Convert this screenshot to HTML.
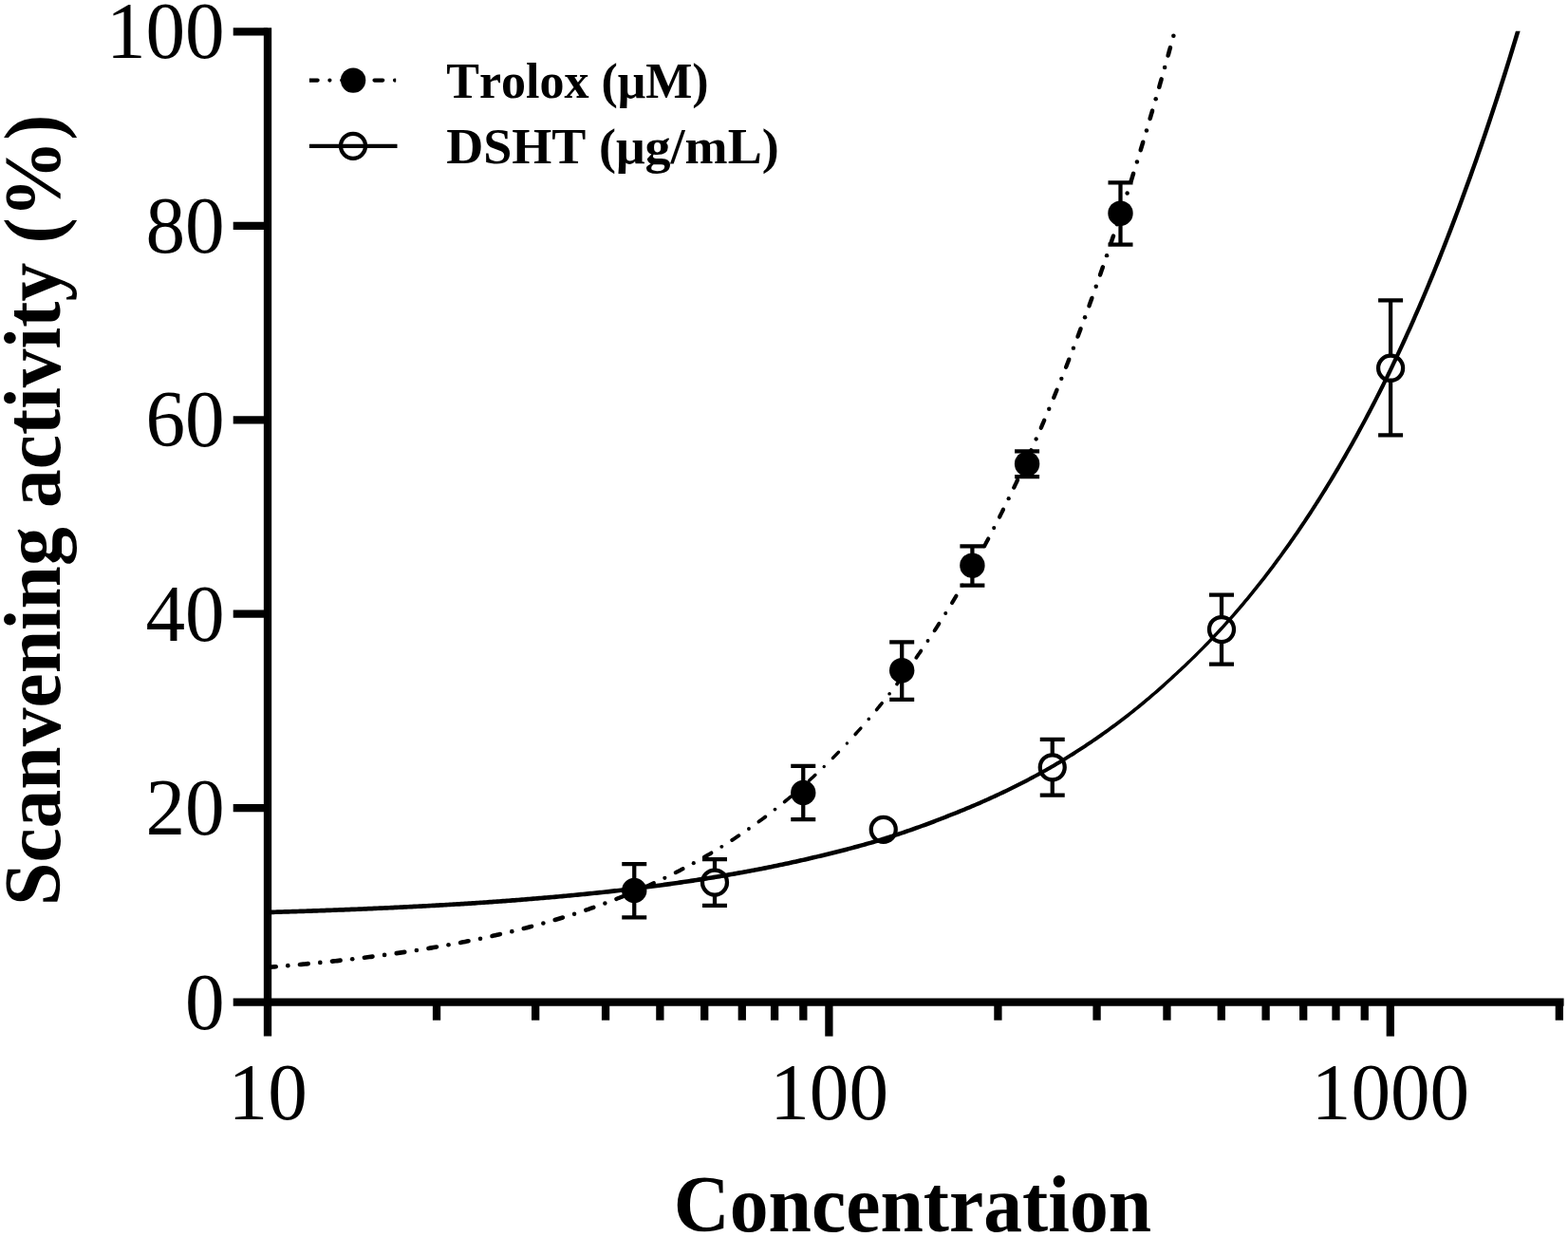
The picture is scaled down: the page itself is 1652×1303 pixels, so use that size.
<!DOCTYPE html>
<html lang="en"><head><meta charset="utf-8"><title>Scavenging activity</title>
<style>
html,body{margin:0;padding:0;background:#fff;}
body{width:1652px;height:1303px;overflow:hidden;}
svg{display:block;}
text{font-family:"Liberation Serif",serif;fill:#000;font-kerning:none;font-variant-ligatures:none;}
.tk{font-size:84.4px;}
.ti{font-size:84px;font-weight:bold;}
.lg{font-size:53.8px;font-weight:bold;}
</style></head><body>
<svg width="1652" height="1303" viewBox="0 0 1652 1303">
<rect width="1652" height="1303" fill="#fff"/>
<g stroke="#000" fill="none" stroke-width="8.3" stroke-linecap="butt">
<path d="M282.0,29.25 V1091.6"/>
<path d="M245.7,1055.6 H1647.6"/>
<path d="M245.7,851.16 H282.0"/>
<path d="M245.7,646.72 H282.0"/>
<path d="M245.7,442.28 H282.0"/>
<path d="M245.7,237.84 H282.0"/>
<path d="M245.7,33.40 H282.0"/>
<path d="M873.40,1055.6 V1091.6"/>
<path d="M1464.80,1055.6 V1091.6"/>
<path d="M460.03,1055.6 V1074.7"/>
<path d="M564.17,1055.6 V1074.7"/>
<path d="M638.06,1055.6 V1074.7"/>
<path d="M695.37,1055.6 V1074.7"/>
<path d="M742.20,1055.6 V1074.7"/>
<path d="M781.79,1055.6 V1074.7"/>
<path d="M816.09,1055.6 V1074.7"/>
<path d="M846.34,1055.6 V1074.7"/>
<path d="M1051.43,1055.6 V1074.7"/>
<path d="M1155.57,1055.6 V1074.7"/>
<path d="M1229.46,1055.6 V1074.7"/>
<path d="M1286.77,1055.6 V1074.7"/>
<path d="M1333.60,1055.6 V1074.7"/>
<path d="M1373.19,1055.6 V1074.7"/>
<path d="M1407.49,1055.6 V1074.7"/>
<path d="M1437.74,1055.6 V1074.7"/>
<path d="M1642.83,1055.6 V1074.7"/>
</g>
<text class="tk" text-anchor="end" transform="translate(236.7,1084.0) scale(0.986,1)">0</text>
<text class="tk" text-anchor="end" transform="translate(236.7,879.4) scale(0.986,1)">20</text>
<text class="tk" text-anchor="end" transform="translate(236.7,674.8) scale(0.986,1)">40</text>
<text class="tk" text-anchor="end" transform="translate(236.7,470.3) scale(0.986,1)">60</text>
<text class="tk" text-anchor="end" transform="translate(236.7,265.7) scale(0.986,1)">80</text>
<text class="tk" text-anchor="end" transform="translate(236.7,61.1) scale(0.986,1)">100</text>
<text class="tk" text-anchor="middle" transform="translate(282.2,1178.9) scale(0.986,1)">10</text>
<text class="tk" text-anchor="middle" transform="translate(873.6,1178.9) scale(0.986,1)">100</text>
<text class="tk" text-anchor="middle" transform="translate(1465.0,1178.9) scale(0.986,1)">1000</text>
<text class="ti" text-anchor="middle" transform="translate(961.5,1296.6) scale(0.972,1)">Concentration</text>
<text class="ti" text-anchor="middle" transform="translate(63,537.3) rotate(-90) scale(0.9705,1)">Scanvening activity (%)</text>
<g stroke="#000" stroke-width="4.25" fill="none">
<clipPath id="lgc"><rect x="325.9" y="60" width="91.3" height="50"/></clipPath>
<path d="M325.9,84.6 H420" stroke-dasharray="8.7 12.8 0.01 12.8" stroke-linecap="round" clip-path="url(#lgc)"/>
<path d="M325.9,153.8 H418.5"/>
<circle cx="372.1" cy="84.6" r="13.2" fill="#000" stroke="none"/>
<circle cx="372" cy="153.8" r="13.0" fill="none"/>
</g>
<text class="lg" text-anchor="start" transform="translate(470.2,103.1) scale(0.967,1)">Trolox (μM)</text>
<text class="lg" text-anchor="start" transform="translate(470.2,172.4) scale(1.005,1)">DSHT (μg/mL)</text>
<g stroke="#000" stroke-width="4.25" fill="none">
<path d="M668.25,910 V966.25 M655.25,910 H681.25 M655.25,966.25 H681.25"/>
<path d="M846.25,806.75 V863 M833.25,806.75 H859.25 M833.25,863 H859.25"/>
<path d="M950.2,676.3 V736.9 M937.2,676.3 H963.2 M937.2,736.9 H963.2"/>
<path d="M1024.4,575.4 V616.6 M1011.4000000000001,575.4 H1037.4 M1011.4000000000001,616.6 H1037.4"/>
<path d="M1082.1,475.4 V502.2 M1069.1,475.4 H1095.1 M1069.1,502.2 H1095.1"/>
<path d="M1180.5,192.4 V257.6 M1167.5,192.4 H1193.5 M1167.5,257.6 H1193.5"/>
<path d="M753,905 V953.75 M740.0,905 H766.0 M740.0,953.75 H766.0"/>
<path d="M1108.75,778.75 V837.5 M1095.75,778.75 H1121.75 M1095.75,837.5 H1121.75"/>
<path d="M1287,626.5 V699.5 M1274.0,626.5 H1300.0 M1274.0,699.5 H1300.0"/>
<path d="M1465.1,316.4 V458.4 M1452.1,316.4 H1478.1 M1452.1,458.4 H1478.1"/>
</g>
<circle cx="668.25" cy="938" r="13.2" fill="#000"/>
<circle cx="846.25" cy="835" r="13.2" fill="#000"/>
<circle cx="950.2" cy="706.2" r="13.2" fill="#000"/>
<circle cx="1024.4" cy="595.7" r="13.2" fill="#000"/>
<circle cx="1082.1" cy="488.7" r="13.2" fill="#000"/>
<circle cx="1180.5" cy="224.7" r="13.2" fill="#000"/>
<circle cx="753" cy="929.5" r="13.0" fill="#fff" stroke="#000" stroke-width="4.25"/>
<circle cx="930.75" cy="873.75" r="13.0" fill="#fff" stroke="#000" stroke-width="4.25"/>
<circle cx="1108.75" cy="808.25" r="13.0" fill="#fff" stroke="#000" stroke-width="4.25"/>
<circle cx="1287" cy="663" r="13.0" fill="#fff" stroke="#000" stroke-width="4.25"/>
<circle cx="1465.1" cy="387.7" r="13.0" fill="#fff" stroke="#000" stroke-width="4.25"/>
<clipPath id="pc"><rect x="282.0" y="32.8" width="1370.0" height="1022.8"/></clipPath>
<polygon points="282.07,963.35 284.07,963.29 286.07,963.23 288.07,963.17 290.07,963.11 292.07,963.05 294.07,962.99 296.07,962.93 298.07,962.87 300.07,962.81 302.07,962.74 304.07,962.68 306.08,962.62 308.08,962.55 310.08,962.49 312.08,962.42 314.08,962.36 316.08,962.29 318.08,962.22 320.08,962.16 322.08,962.09 324.08,962.02 326.08,961.95 328.08,961.88 330.08,961.81 332.08,961.74 334.08,961.67 336.08,961.60 338.08,961.53 340.08,961.46 342.09,961.39 344.09,961.31 346.09,961.24 348.09,961.16 350.09,961.09 352.09,961.01 354.09,960.94 356.09,960.86 358.09,960.79 360.09,960.71 362.09,960.63 364.09,960.55 366.09,960.47 368.09,960.39 370.09,960.31 372.10,960.23 374.10,960.15 376.10,960.07 378.10,959.98 380.10,959.90 382.10,959.82 384.10,959.73 386.10,959.65 388.10,959.56 390.10,959.48 392.10,959.39 394.10,959.30 396.10,959.21 398.10,959.12 400.11,959.03 402.11,958.94 404.11,958.85 406.11,958.76 408.11,958.67 410.11,958.58 412.11,958.48 414.11,958.39 416.11,958.30 418.11,958.20 420.11,958.10 422.11,958.01 424.11,957.91 426.12,957.81 428.12,957.71 430.12,957.61 432.12,957.51 434.12,957.41 436.12,957.31 438.12,957.21 440.12,957.10 442.12,957.00 444.12,956.89 446.12,956.79 448.12,956.68 450.13,956.57 452.13,956.47 454.13,956.36 456.13,956.25 458.13,956.14 460.13,956.03 462.13,955.92 464.13,955.80 466.13,955.69 468.13,955.57 470.14,955.46 472.14,955.34 474.14,955.23 476.14,955.11 478.14,954.99 480.14,954.87 482.14,954.75 484.14,954.63 486.14,954.51 488.14,954.39 490.15,954.26 492.15,954.14 494.15,954.01 496.15,953.89 498.15,953.76 500.15,953.63 502.16,953.50 504.16,953.36 506.16,953.23 508.16,953.09 510.16,952.95 512.16,952.82 514.16,952.68 516.16,952.54 518.17,952.40 520.17,952.25 522.17,952.11 524.17,951.97 526.17,951.82 528.17,951.68 530.17,951.53 532.17,951.38 534.17,951.23 536.18,951.08 538.18,950.93 540.18,950.78 542.18,950.63 544.18,950.47 546.18,950.32 548.18,950.16 550.18,950.00 552.19,949.84 554.19,949.68 556.19,949.52 558.19,949.36 560.19,949.20 562.19,949.03 564.19,948.87 566.19,948.70 568.20,948.53 570.20,948.36 572.20,948.19 574.20,948.02 576.20,947.85 578.20,947.68 580.20,947.50 582.21,947.32 584.21,947.15 586.21,946.97 588.21,946.79 590.21,946.61 592.21,946.42 594.21,946.24 596.22,946.05 598.22,945.87 600.22,945.68 602.22,945.49 604.22,945.30 606.22,945.11 608.23,944.91 610.23,944.72 612.23,944.52 614.23,944.33 616.23,944.13 618.23,943.93 620.23,943.73 622.24,943.52 624.24,943.32 626.24,943.11 628.24,942.91 630.24,942.70 632.24,942.49 634.25,942.27 636.25,942.06 638.25,941.85 640.25,941.63 642.25,941.41 644.26,941.19 646.26,940.97 648.26,940.75 650.26,940.52 652.27,940.29 654.27,940.06 656.27,939.82 658.27,939.59 660.28,939.35 662.28,939.11 664.28,938.87 666.28,938.62 668.28,938.38 670.29,938.13 672.29,937.88 674.29,937.63 676.29,937.38 678.29,937.13 680.30,936.87 682.30,936.61 684.30,936.36 686.30,936.09 688.30,935.83 690.31,935.57 692.31,935.30 694.31,935.03 696.31,934.76 698.31,934.49 700.32,934.22 702.32,933.94 704.32,933.67 706.32,933.39 708.32,933.10 710.33,932.82 712.33,932.54 714.33,932.25 716.33,931.96 718.34,931.67 720.34,931.37 722.34,931.08 724.34,930.78 726.34,930.48 728.35,930.18 730.35,929.88 732.35,929.57 734.35,929.26 736.36,928.95 738.36,928.64 740.36,928.32 742.36,928.01 744.37,927.69 746.37,927.37 748.37,927.04 750.37,926.72 752.38,926.39 754.38,926.06 756.38,925.73 758.38,925.39 760.39,925.06 762.39,924.72 764.39,924.37 766.39,924.03 768.40,923.68 770.40,923.33 772.40,922.98 774.40,922.63 776.41,922.27 778.41,921.92 780.41,921.55 782.41,921.19 784.42,920.83 786.42,920.46 788.42,920.09 790.42,919.71 792.43,919.34 794.43,918.96 796.43,918.58 798.44,918.19 800.44,917.80 802.44,917.41 804.44,917.02 806.45,916.63 808.45,916.23 810.45,915.83 812.46,915.42 814.46,915.02 816.46,914.61 818.46,914.20 820.47,913.78 822.47,913.36 824.47,912.94 826.48,912.52 828.48,912.09 830.48,911.66 832.49,911.23 834.49,910.79 836.49,910.35 838.50,909.91 840.50,909.46 842.50,909.01 844.51,908.56 846.51,908.10 848.51,907.65 850.52,907.18 852.52,906.72 854.52,906.25 856.53,905.78 858.53,905.30 860.53,904.83 862.52,904.36 864.53,903.89 866.53,903.41 868.53,902.93 870.54,902.45 872.54,901.96 874.54,901.47 876.55,900.97 878.55,900.48 880.55,899.97 882.56,899.47 884.56,898.96 886.57,898.45 888.57,897.93 890.57,897.41 892.58,896.89 894.58,896.36 896.58,895.83 898.59,895.29 900.59,894.75 902.59,894.21 904.60,893.66 906.60,893.11 908.61,892.55 910.61,891.99 912.61,891.43 914.62,890.86 916.62,890.29 918.62,889.72 920.63,889.14 922.63,888.55 924.64,887.96 926.64,887.37 928.64,886.77 930.66,886.16 932.68,885.52 934.68,884.88 936.68,884.24 938.69,883.59 940.69,882.94 942.70,882.28 944.70,881.62 946.70,880.95 948.71,880.28 950.71,879.61 952.72,878.93 954.72,878.24 956.72,877.55 958.73,876.86 960.73,876.16 962.74,875.46 964.74,874.75 966.74,874.03 968.75,873.31 970.75,872.59 972.76,871.86 974.76,871.13 976.76,870.39 978.77,869.64 980.77,868.89 982.78,868.14 984.78,867.38 986.78,866.61 988.79,865.84 990.79,865.07 992.80,864.28 994.80,863.50 996.80,862.70 998.81,861.91 1000.80,861.11 1002.80,860.34 1004.80,859.55 1006.81,858.75 1008.81,857.95 1010.81,857.15 1012.82,856.33 1014.82,855.52 1016.83,854.69 1018.83,853.86 1020.84,853.03 1022.84,852.18 1024.84,851.33 1026.85,850.48 1028.85,849.62 1030.86,848.75 1032.86,847.88 1034.86,847.00 1036.87,846.12 1038.87,845.22 1040.88,844.32 1042.88,843.42 1044.89,842.51 1046.89,841.59 1048.89,840.66 1050.90,839.73 1052.90,838.79 1054.91,837.85 1056.91,836.90 1058.92,835.94 1060.92,834.97 1062.92,834.00 1064.93,833.02 1066.93,832.03 1068.94,831.04 1070.94,830.04 1072.94,829.03 1074.95,828.02 1076.95,826.99 1078.96,825.96 1080.96,824.92 1082.96,823.88 1084.97,822.83 1086.97,821.77 1088.98,820.70 1090.98,819.62 1092.98,818.54 1094.99,817.45 1096.99,816.35 1098.99,815.24 1101.00,814.12 1102.98,812.99 1104.95,811.86 1106.93,810.72 1108.90,809.57 1110.87,808.41 1112.85,807.25 1114.82,806.07 1116.80,804.89 1118.77,803.70 1120.74,802.50 1122.72,801.30 1124.69,800.08 1126.66,798.86 1128.64,797.62 1130.61,796.38 1132.58,795.13 1134.56,793.87 1136.53,792.60 1138.50,791.32 1140.48,790.03 1142.45,788.74 1144.42,787.43 1146.39,786.11 1148.37,784.79 1150.34,783.45 1152.31,782.11 1154.29,780.75 1156.26,779.39 1158.23,778.02 1160.20,776.63 1162.18,775.24 1164.15,773.83 1166.12,772.42 1168.10,771.00 1170.07,769.56 1172.04,768.12 1174.01,766.66 1175.98,765.20 1177.96,763.72 1179.93,762.23 1181.90,760.73 1183.87,759.22 1185.84,757.71 1187.81,756.18 1189.77,754.63 1191.74,753.08 1193.71,751.52 1195.68,749.94 1197.65,748.36 1199.62,746.76 1201.58,745.15 1203.55,743.53 1205.52,741.90 1207.49,740.25 1209.46,738.60 1211.43,736.93 1213.39,735.25 1215.36,733.56 1217.33,731.86 1219.30,730.14 1221.27,728.41 1223.23,726.67 1225.20,724.92 1227.17,723.15 1229.14,721.37 1231.10,719.58 1233.07,717.77 1235.04,715.96 1237.01,714.13 1238.97,712.30 1240.99,710.45 1243.00,708.58 1245.02,706.70 1247.04,704.80 1249.06,702.89 1251.07,700.97 1253.09,699.03 1255.11,697.08 1257.12,695.11 1259.14,693.13 1261.16,691.13 1263.17,689.12 1265.20,687.10 1267.22,685.07 1269.25,683.03 1271.27,680.97 1273.30,678.90 1275.32,676.81 1277.35,674.70 1279.37,672.58 1281.40,670.45 1283.42,668.30 1285.45,666.13 1287.47,663.95 1289.50,661.75 1291.52,659.54 1293.55,657.31 1295.57,655.06 1297.60,652.80 1299.63,650.52 1301.64,648.22 1303.65,645.91 1305.67,643.58 1307.68,641.24 1309.69,638.88 1311.70,636.50 1313.71,634.10 1315.73,631.69 1317.74,629.26 1319.75,626.81 1321.76,624.34 1323.78,621.86 1325.79,619.35 1327.80,616.83 1329.81,614.29 1331.82,611.74 1333.84,609.16 1335.85,606.57 1337.86,603.95 1339.87,601.32 1341.88,598.67 1343.89,596.00 1345.91,593.31 1347.92,590.60 1349.93,587.87 1351.94,585.12 1353.95,582.36 1355.96,579.57 1357.98,576.76 1359.99,573.93 1362.00,571.08 1364.01,568.21 1366.02,565.32 1368.03,562.41 1370.04,559.48 1372.06,556.52 1374.07,553.55 1376.08,550.55 1378.09,547.53 1380.10,544.49 1382.11,541.43 1384.12,538.35 1386.13,535.24 1388.14,532.11 1390.16,528.96 1392.17,525.79 1394.18,522.59 1396.19,519.37 1398.20,516.13 1400.21,512.86 1402.23,509.57 1404.25,506.26 1406.27,502.92 1408.29,499.56 1410.31,496.17 1412.33,492.76 1414.34,489.32 1416.36,485.86 1418.38,482.38 1420.40,478.87 1422.42,475.33 1424.44,471.77 1426.46,468.18 1428.48,464.57 1430.50,460.93 1432.52,457.26 1434.54,453.57 1436.56,449.85 1438.58,446.11 1440.60,442.34 1442.62,438.54 1444.64,434.71 1446.66,430.85 1448.67,426.97 1450.69,423.06 1452.71,419.12 1454.73,415.16 1456.75,411.16 1458.77,407.14 1460.79,403.08 1462.80,399.00 1464.80,394.88 1466.81,390.74 1468.81,386.57 1470.82,382.37 1472.82,378.13 1474.83,373.87 1476.83,369.58 1478.84,365.25 1480.84,360.90 1482.85,356.51 1484.85,352.09 1486.86,347.64 1488.86,343.16 1490.87,338.64 1492.87,334.09 1494.88,329.51 1496.88,324.90 1498.88,320.25 1500.89,315.57 1502.89,310.86 1504.90,306.11 1506.90,301.33 1508.91,296.51 1510.91,291.66 1512.91,286.77 1514.92,281.85 1516.92,276.89 1518.93,271.90 1520.93,266.87 1522.93,261.80 1524.94,256.70 1526.94,251.56 1528.95,246.39 1530.95,241.17 1532.95,235.92 1534.96,230.63 1536.96,225.31 1538.96,219.94 1540.97,214.54 1542.97,209.09 1544.98,203.61 1546.98,198.10 1549.01,192.53 1551.03,186.93 1553.05,181.29 1555.07,175.61 1557.09,169.88 1559.11,164.12 1561.13,158.31 1563.16,152.46 1565.18,146.57 1567.20,140.64 1569.22,134.66 1571.24,128.64 1573.26,122.58 1575.28,116.47 1577.30,110.32 1579.33,104.13 1581.35,97.89 1583.37,91.60 1585.39,85.27 1587.41,78.90 1589.43,72.48 1591.45,66.01 1593.47,59.49 1595.49,52.93 1597.51,46.32 1599.54,39.67 1601.56,32.96 1603.56,26.20 1599.24,24.93 1597.24,31.67 1595.23,38.37 1593.21,45.01 1591.20,51.61 1589.18,58.17 1587.17,64.68 1585.15,71.14 1583.14,77.55 1581.12,83.92 1579.10,90.24 1577.09,96.52 1575.07,102.75 1573.06,108.93 1571.04,115.08 1569.03,121.17 1567.01,127.23 1565.00,133.24 1562.98,139.21 1560.97,145.13 1558.95,151.02 1556.94,156.86 1554.92,162.66 1552.91,168.41 1550.89,174.13 1548.88,179.80 1546.86,185.44 1544.85,191.03 1542.83,196.58 1540.82,202.10 1538.83,207.58 1536.83,213.01 1534.84,218.41 1532.84,223.76 1530.84,229.08 1528.85,234.36 1526.85,239.61 1524.85,244.81 1522.86,249.98 1520.86,255.11 1518.87,260.20 1516.87,265.26 1514.87,270.28 1512.88,275.27 1510.88,280.21 1508.89,285.13 1506.89,290.01 1504.89,294.85 1502.90,299.66 1500.90,304.43 1498.91,309.17 1496.91,313.88 1494.92,318.55 1492.92,323.19 1490.92,327.79 1488.93,332.37 1486.93,336.91 1484.94,341.41 1482.94,345.89 1480.95,350.33 1478.95,354.74 1476.96,359.12 1474.96,363.47 1472.97,367.78 1470.97,372.07 1468.98,376.32 1466.98,380.55 1464.99,384.74 1462.99,388.90 1461.00,393.04 1459.00,397.14 1457.01,401.21 1455.01,405.26 1453.00,409.27 1450.99,413.26 1448.98,417.22 1446.97,421.15 1444.97,425.05 1442.96,428.93 1440.95,432.78 1438.94,436.59 1436.94,440.39 1434.93,444.15 1432.92,447.89 1430.91,451.60 1428.91,455.28 1426.90,458.94 1424.89,462.57 1422.88,466.18 1420.88,469.76 1418.87,473.31 1416.86,476.84 1414.86,480.34 1412.85,483.82 1410.84,487.28 1408.83,490.70 1406.83,494.11 1404.82,497.49 1402.81,500.84 1400.81,504.17 1398.80,507.48 1396.79,510.77 1394.79,514.03 1392.80,517.26 1390.80,520.48 1388.80,523.67 1386.80,526.83 1384.81,529.98 1382.81,533.10 1380.81,536.20 1378.82,539.28 1376.82,542.34 1374.82,545.37 1372.83,548.38 1370.83,551.37 1368.83,554.34 1366.84,557.29 1364.84,560.22 1362.84,563.12 1360.85,566.01 1358.85,568.87 1356.85,571.71 1354.86,574.54 1352.86,577.34 1350.86,580.12 1348.87,582.89 1346.87,585.63 1344.87,588.36 1342.88,591.06 1340.88,593.74 1338.89,596.41 1336.89,599.06 1334.89,601.68 1332.90,604.29 1330.90,606.88 1328.90,609.46 1326.91,612.01 1324.91,614.54 1322.92,617.06 1320.92,619.56 1318.93,622.04 1316.93,624.50 1314.93,626.95 1312.94,629.38 1310.94,631.79 1308.95,634.18 1306.95,636.56 1304.95,638.92 1302.96,641.26 1300.96,643.59 1298.97,645.90 1296.97,648.19 1294.97,650.47 1292.96,652.73 1290.95,654.97 1288.95,657.20 1286.94,659.41 1284.93,661.61 1282.92,663.79 1280.91,665.95 1278.90,668.10 1276.90,670.24 1274.89,672.35 1272.88,674.46 1270.87,676.55 1268.86,678.62 1266.85,680.68 1264.85,682.72 1262.84,684.75 1260.83,686.76 1258.81,688.76 1256.79,690.74 1254.78,692.70 1252.76,694.65 1250.74,696.58 1248.73,698.51 1246.71,700.41 1244.69,702.31 1242.68,704.19 1240.66,706.06 1238.65,707.91 1236.63,709.76 1234.66,711.61 1232.70,713.42 1230.73,715.22 1228.76,717.01 1226.80,718.78 1224.83,720.55 1222.87,722.29 1220.90,724.03 1218.93,725.76 1216.97,727.47 1215.00,729.17 1213.04,730.86 1211.07,732.53 1209.11,734.19 1207.14,735.84 1205.18,737.48 1203.21,739.11 1201.25,740.73 1199.28,742.33 1197.32,743.93 1195.35,745.51 1193.39,747.08 1191.42,748.63 1189.46,750.18 1187.49,751.72 1185.53,753.24 1183.56,754.76 1181.60,756.26 1179.63,757.75 1177.67,759.24 1175.70,760.71 1173.74,762.17 1171.77,763.62 1169.80,765.06 1167.83,766.49 1165.86,767.91 1163.90,769.31 1161.93,770.71 1159.96,772.10 1158.00,773.48 1156.03,774.85 1154.06,776.21 1152.09,777.56 1150.13,778.90 1148.16,780.23 1146.19,781.55 1144.23,782.86 1142.26,784.16 1140.29,785.45 1138.32,786.74 1136.36,788.01 1134.39,789.27 1132.42,790.53 1130.46,791.78 1128.49,793.01 1126.52,794.24 1124.56,795.46 1122.59,796.67 1120.62,797.88 1118.66,799.07 1116.69,800.26 1114.72,801.43 1112.76,802.60 1110.79,803.76 1108.83,804.91 1106.86,806.06 1104.89,807.19 1102.93,808.32 1100.96,809.44 1099.00,810.54 1097.01,811.64 1095.01,812.73 1093.01,813.82 1091.02,814.90 1089.02,815.97 1087.02,817.04 1085.03,818.09 1083.03,819.14 1081.04,820.18 1079.04,821.22 1077.04,822.24 1075.05,823.26 1073.05,824.28 1071.06,825.28 1069.06,826.28 1067.06,827.27 1065.07,828.25 1063.07,829.23 1061.08,830.20 1059.08,831.16 1057.08,832.11 1055.09,833.06 1053.09,834.01 1051.10,834.94 1049.10,835.87 1047.11,836.79 1045.11,837.71 1043.11,838.61 1041.12,839.52 1039.12,840.41 1037.13,841.30 1035.13,842.18 1033.14,843.06 1031.14,843.93 1029.14,844.79 1027.15,845.65 1025.15,846.50 1023.16,847.35 1021.16,848.19 1019.16,849.02 1017.17,849.85 1015.17,850.67 1013.18,851.49 1011.18,852.30 1009.19,853.10 1007.19,853.90 1005.19,854.69 1003.20,855.48 1001.20,856.26 999.20,857.05 997.19,857.85 995.20,858.64 993.20,859.43 991.20,860.21 989.21,860.98 987.21,861.75 985.22,862.51 983.22,863.27 981.22,864.02 979.23,864.77 977.23,865.51 975.24,866.25 973.24,866.98 971.24,867.71 969.25,868.43 967.25,869.15 965.26,869.86 963.26,870.57 961.26,871.27 959.27,871.97 957.27,872.66 955.28,873.35 953.28,874.03 951.28,874.71 949.29,875.39 947.29,876.06 945.30,876.72 943.30,877.38 941.30,878.04 939.31,878.69 937.31,879.34 935.32,879.98 933.32,880.62 931.32,881.25 929.34,881.87 927.36,882.46 925.36,883.05 923.36,883.64 921.37,884.22 919.37,884.80 917.38,885.38 915.38,885.95 913.38,886.51 911.39,887.08 909.39,887.64 907.39,888.19 905.40,888.74 903.40,889.29 901.41,889.83 899.41,890.37 897.41,890.91 895.42,891.44 893.42,891.96 891.42,892.49 889.43,893.01 887.43,893.52 885.43,894.04 883.44,894.55 881.44,895.05 879.45,895.55 877.45,896.05 875.45,896.55 873.46,897.04 871.46,897.52 869.46,898.01 867.47,898.49 865.47,898.96 863.47,899.44 861.48,899.91 859.47,900.38 857.47,900.86 855.47,901.33 853.48,901.80 851.48,902.26 849.48,902.72 847.49,903.18 845.49,903.64 843.49,904.09 841.50,904.54 839.50,904.98 837.50,905.43 835.51,905.87 833.51,906.30 831.51,906.74 829.52,907.17 827.52,907.59 825.52,908.02 823.53,908.44 821.53,908.86 819.53,909.27 817.54,909.69 815.54,910.10 813.54,910.50 811.54,910.91 809.55,911.31 807.55,911.71 805.55,912.10 803.56,912.50 801.56,912.89 799.56,913.27 797.56,913.66 795.57,914.04 793.57,914.42 791.57,914.80 789.58,915.17 787.58,915.54 785.58,915.91 783.58,916.28 781.59,916.64 779.59,917.00 777.59,917.36 775.59,917.72 773.60,918.07 771.60,918.42 769.60,918.77 767.60,919.12 765.61,919.46 763.61,919.81 761.61,920.15 759.61,920.49 757.62,920.82 755.62,921.15 753.62,921.49 751.62,921.81 749.63,922.14 747.63,922.46 745.63,922.79 743.63,923.11 741.64,923.42 739.64,923.74 737.64,924.05 735.64,924.36 733.65,924.67 731.65,924.98 729.65,925.28 727.65,925.58 725.66,925.88 723.66,926.18 721.66,926.48 719.66,926.77 717.66,927.07 715.67,927.36 713.67,927.64 711.67,927.93 709.67,928.21 707.68,928.50 705.68,928.78 703.68,929.05 701.68,929.33 699.68,929.60 697.69,929.88 695.69,930.15 693.69,930.42 691.69,930.68 689.69,930.95 687.70,931.21 685.70,931.47 683.70,931.73 681.70,931.99 679.70,932.25 677.71,932.50 675.71,932.75 673.71,933.00 671.71,933.25 669.71,933.50 667.72,933.75 665.72,933.99 663.72,934.23 661.72,934.47 659.72,934.71 657.73,934.95 655.73,935.19 653.73,935.42 651.73,935.65 649.74,935.88 647.74,936.11 645.74,936.33 643.74,936.55 641.75,936.77 639.75,936.98 637.75,937.20 635.75,937.41 633.75,937.63 631.76,937.84 629.76,938.05 627.76,938.26 625.76,938.46 623.76,938.67 621.76,938.87 619.77,939.07 617.77,939.27 615.77,939.47 613.77,939.67 611.77,939.87 609.77,940.06 607.77,940.26 605.78,940.45 603.78,940.64 601.78,940.83 599.78,941.02 597.78,941.21 595.78,941.39 593.79,941.58 591.79,941.76 589.79,941.94 587.79,942.13 585.79,942.31 583.79,942.48 581.79,942.66 579.80,942.84 577.80,943.01 575.80,943.18 573.80,943.36 571.80,943.53 569.80,943.70 567.80,943.87 565.81,944.03 563.81,944.20 561.81,944.36 559.81,944.53 557.81,944.69 555.81,944.85 553.81,945.01 551.81,945.17 549.82,945.33 547.82,945.49 545.82,945.64 543.82,945.80 541.82,945.95 539.82,946.11 537.82,946.26 535.82,946.41 533.83,946.56 531.83,946.71 529.83,946.85 527.83,947.00 525.83,947.15 523.83,947.29 521.83,947.43 519.83,947.58 517.83,947.72 515.84,947.86 513.84,948.00 511.84,948.14 509.84,948.28 507.84,948.41 505.84,948.55 503.84,948.68 501.84,948.82 499.85,948.95 497.85,949.08 495.85,949.20 493.85,949.33 491.85,949.46 489.85,949.58 487.86,949.70 485.86,949.83 483.86,949.95 481.86,950.07 479.86,950.19 477.86,950.31 475.86,950.43 473.86,950.54 471.86,950.66 469.86,950.78 467.87,950.89 465.87,951.00 463.87,951.12 461.87,951.23 459.87,951.34 457.87,951.45 455.87,951.56 453.87,951.67 451.87,951.78 449.87,951.89 447.88,952.00 445.88,952.10 443.88,952.21 441.88,952.31 439.88,952.42 437.88,952.52 435.88,952.62 433.88,952.72 431.88,952.82 429.88,952.92 427.88,953.02 425.88,953.12 423.89,953.22 421.89,953.32 419.89,953.41 417.89,953.51 415.89,953.61 413.89,953.70 411.89,953.79 409.89,953.89 407.89,953.98 405.89,954.07 403.89,954.16 401.89,954.25 399.89,954.34 397.90,954.43 395.90,954.52 393.90,954.61 391.90,954.70 389.90,954.78 387.90,954.87 385.90,954.96 383.90,955.04 381.90,955.13 379.90,955.21 377.90,955.29 375.90,955.38 373.90,955.46 371.90,955.54 369.91,955.62 367.91,955.70 365.91,955.78 363.91,955.86 361.91,955.94 359.91,956.02 357.91,956.09 355.91,956.17 353.91,956.25 351.91,956.32 349.91,956.40 347.91,956.47 345.91,956.55 343.91,956.62 341.91,956.69 339.92,956.76 337.92,956.84 335.92,956.91 333.92,956.98 331.92,957.05 329.92,957.12 327.92,957.19 325.92,957.26 323.92,957.33 321.92,957.39 319.92,957.46 317.92,957.53 315.92,957.60 313.92,957.66 311.92,957.73 309.92,957.79 307.92,957.86 305.92,957.92 303.93,957.98 301.93,958.05 299.93,958.11 297.93,958.17 295.93,958.24 293.93,958.30 291.93,958.36 289.93,958.42 287.93,958.48 285.93,958.54 283.93,958.60 281.93,958.66" fill="#000" clip-path="url(#pc)"/>
<g fill="none" stroke="#000" stroke-linecap="round" clip-path="url(#pc)">
<path stroke-width="4.68" d="M282.00,1018.94 L283.72,1018.80 L285.45,1018.66 L287.17,1018.52 L288.90,1018.38 L290.62,1018.24"/>
<path stroke-width="4.68" d="M303.30,1017.16 h0.01"/>
<path stroke-width="4.68" d="M316.01,1016.01 L317.73,1015.85 L319.45,1015.69 L321.17,1015.53 L322.89,1015.36 L324.62,1015.20"/>
<path stroke-width="4.68" d="M337.28,1013.95 h0.01"/>
<path stroke-width="4.67" d="M349.97,1012.62 L351.69,1012.44 L353.41,1012.25 L355.13,1012.06 L356.85,1011.87 L358.57,1011.68"/>
<path stroke-width="4.67" d="M371.21,1010.23 h0.01"/>
<path stroke-width="4.66" d="M383.88,1008.70 L385.60,1008.48 L387.31,1008.27 L389.03,1008.05 L390.74,1007.83 L392.46,1007.61"/>
<path stroke-width="4.66" d="M405.08,1005.94 h0.01"/>
<path stroke-width="4.65" d="M417.71,1004.17 L419.43,1003.92 L421.14,1003.67 L422.85,1003.42 L424.56,1003.17 L426.27,1002.91"/>
<path stroke-width="4.64" d="M438.85,1000.98 h0.01"/>
<path stroke-width="4.63" d="M451.45,998.94 L453.16,998.65 L454.86,998.36 L456.57,998.07 L458.27,997.78 L459.98,997.49"/>
<path stroke-width="4.62" d="M472.51,995.26 h0.01"/>
<path stroke-width="4.61" d="M485.06,992.91 L486.76,992.58 L488.45,992.25 L490.15,991.92 L491.85,991.58 L493.55,991.24"/>
<path stroke-width="4.60" d="M506.02,988.69 h0.01"/>
<path stroke-width="4.58" d="M518.49,985.98 L520.18,985.61 L521.87,985.23 L523.56,984.84 L525.25,984.46 L526.93,984.07"/>
<path stroke-width="4.57" d="M539.32,981.14 h0.01"/>
<path stroke-width="4.55" d="M551.71,978.04 L553.39,977.61 L555.06,977.18 L556.74,976.74 L558.41,976.30 L560.09,975.85"/>
<path stroke-width="4.53" d="M572.37,972.50 h0.01"/>
<path stroke-width="4.50" d="M584.64,968.97 L586.30,968.48 L587.96,967.98 L589.62,967.48 L591.28,966.98 L592.94,966.48"/>
<path stroke-width="4.47" d="M605.09,962.66 h0.01"/>
<path stroke-width="4.44" d="M617.22,958.65 L618.86,958.09 L620.50,957.53 L622.13,956.96 L623.77,956.39 L625.40,955.82"/>
<path stroke-width="4.41" d="M637.39,951.50 h0.01"/>
<path stroke-width="4.37" d="M649.34,946.96 L650.95,946.33 L652.57,945.70 L654.18,945.06 L655.79,944.42 L657.40,943.77"/>
<path stroke-width="4.33" d="M669.18,938.91 h0.01"/>
<path stroke-width="4.28" d="M680.91,933.82 L682.49,933.11 L684.07,932.40 L685.65,931.69 L687.23,930.97 L688.81,930.25"/>
<path stroke-width="4.23" d="M700.35,924.81 h0.01"/>
<path stroke-width="4.18" d="M711.81,919.14 L713.36,918.35 L714.90,917.56 L716.44,916.77 L717.98,915.97 L719.52,915.17"/>
<path stroke-width="4.12" d="M730.77,909.14 h0.01"/>
<path stroke-width="4.06" d="M741.93,902.87 L743.43,902.00 L744.94,901.13 L746.43,900.26 L747.93,899.38 L749.43,898.49"/>
<path stroke-width="3.99" d="M760.34,891.87 h0.01"/>
<path stroke-width="3.92" d="M771.16,885.00 L772.61,884.05 L774.06,883.10 L775.51,882.15 L776.96,881.19 L778.41,880.22"/>
<path stroke-width="3.85" d="M788.95,873.01 h0.01"/>
<path stroke-width="3.78" d="M799.38,865.56 L800.79,864.53 L802.19,863.50 L803.58,862.46 L804.98,861.43 L806.37,860.38"/>
<path stroke-width="3.70" d="M816.51,852.60 h0.01"/>
<path stroke-width="3.62" d="M826.53,844.59 L827.88,843.49 L829.22,842.38 L830.56,841.27 L831.90,840.16 L833.23,839.05"/>
<path stroke-width="3.54" d="M842.96,830.73 h0.01"/>
<path stroke-width="3.46" d="M852.54,822.19 L853.83,821.02 L855.12,819.84 L856.40,818.67 L857.67,817.48 L858.95,816.30"/>
<path stroke-width="3.38" d="M868.24,807.48 h0.01"/>
<path stroke-width="3.35" d="M877.39,798.47 L878.62,797.23 L879.84,795.99 L881.06,794.75 L882.28,793.51 L883.50,792.26"/>
<path stroke-width="3.43" d="M892.35,782.99 h0.01"/>
<path stroke-width="3.50" d="M901.06,773.54 L902.23,772.25 L903.40,770.95 L904.56,769.65 L905.72,768.35 L906.87,767.05"/>
<path stroke-width="3.57" d="M915.29,757.38 h0.01"/>
<path stroke-width="3.64" d="M923.58,747.54 L924.69,746.19 L925.80,744.85 L926.90,743.50 L928.01,742.15 L929.11,740.79"/>
<path stroke-width="3.70" d="M937.11,730.76 h0.01"/>
<path stroke-width="3.75" d="M944.98,720.58 L946.04,719.19 L947.09,717.80 L948.14,716.41 L949.19,715.01 L950.23,713.61"/>
<path stroke-width="3.81" d="M957.83,703.27 h0.01"/>
<path stroke-width="3.86" d="M965.31,692.79 L966.32,691.36 L967.32,689.93 L968.31,688.49 L969.31,687.06 L970.30,685.62"/>
<path stroke-width="3.90" d="M977.53,675.00 h0.01"/>
<path stroke-width="3.95" d="M984.63,664.26 L985.59,662.80 L986.54,661.33 L987.49,659.86 L988.43,658.40 L989.38,656.93"/>
<path stroke-width="3.99" d="M996.25,646.07 h0.01"/>
<path stroke-width="4.02" d="M1003.01,635.10 L1003.92,633.60 L1004.82,632.11 L1005.72,630.61 L1006.62,629.11 L1007.52,627.61"/>
<path stroke-width="4.06" d="M1014.06,616.55 h0.01"/>
<path stroke-width="4.09" d="M1020.50,605.38 L1021.36,603.86 L1022.23,602.34 L1023.09,600.82 L1023.94,599.29 L1024.80,597.77"/>
<path stroke-width="4.12" d="M1031.03,586.52 h0.01"/>
<path stroke-width="4.15" d="M1037.17,575.18 L1037.99,573.64 L1038.82,572.09 L1039.64,570.55 L1040.45,569.00 L1041.27,567.46"/>
<path stroke-width="4.18" d="M1047.22,556.05 h0.01"/>
<path stroke-width="4.20" d="M1053.08,544.56 L1053.86,543.00 L1054.65,541.43 L1055.43,539.87 L1056.22,538.31 L1057.00,536.74"/>
<path stroke-width="4.23" d="M1062.68,525.20 h0.01"/>
<path stroke-width="4.25" d="M1068.28,513.57 L1069.04,512.00 L1069.79,510.42 L1070.54,508.84 L1071.28,507.25 L1072.03,505.67"/>
<path stroke-width="4.27" d="M1077.47,494.01 h0.01"/>
<path stroke-width="4.29" d="M1082.84,482.27 L1083.56,480.68 L1084.28,479.08 L1085.00,477.49 L1085.71,475.89 L1086.43,474.29"/>
<path stroke-width="4.30" d="M1091.64,462.52 h0.01"/>
<path stroke-width="4.32" d="M1096.79,450.69 L1097.49,449.08 L1098.18,447.47 L1098.86,445.86 L1099.55,444.25 L1100.24,442.64"/>
<path stroke-width="4.34" d="M1105.25,430.78 h0.01"/>
<path stroke-width="4.35" d="M1110.19,418.86 L1110.86,417.24 L1111.52,415.62 L1112.18,414.00 L1112.84,412.38 L1113.50,410.76"/>
<path stroke-width="4.36" d="M1118.32,398.81 h0.01"/>
<path stroke-width="4.38" d="M1123.08,386.81 L1123.72,385.18 L1124.36,383.55 L1124.99,381.92 L1125.63,380.29 L1126.27,378.66"/>
<path stroke-width="4.39" d="M1130.90,366.64 h0.01"/>
<path stroke-width="4.40" d="M1135.49,354.57 L1136.11,352.93 L1136.72,351.29 L1137.34,349.65 L1137.95,348.01 L1138.56,346.37"/>
<path stroke-width="4.41" d="M1143.03,334.29 h0.01"/>
<path stroke-width="4.42" d="M1147.46,322.16 L1148.05,320.51 L1148.65,318.86 L1149.24,317.22 L1149.83,315.57 L1150.43,313.92"/>
<path stroke-width="4.43" d="M1154.74,301.78 h0.01"/>
<path stroke-width="4.44" d="M1159.02,289.59 L1159.59,287.94 L1160.17,286.29 L1160.74,284.63 L1161.32,282.98 L1161.89,281.32"/>
<path stroke-width="4.45" d="M1166.06,269.13 h0.01"/>
<path stroke-width="4.46" d="M1170.20,256.90 L1170.76,255.23 L1171.31,253.57 L1171.87,251.91 L1172.42,250.25 L1172.98,248.59"/>
<path stroke-width="4.47" d="M1177.02,236.36 h0.01"/>
<path stroke-width="4.47" d="M1181.03,224.07 L1181.57,222.41 L1182.11,220.74 L1182.64,219.07 L1183.18,217.41 L1183.72,215.74"/>
<path stroke-width="4.48" d="M1187.64,203.46 h0.01"/>
<path stroke-width="4.49" d="M1191.52,191.14 L1192.05,189.47 L1192.57,187.80 L1193.09,186.13 L1193.61,184.45 L1194.13,182.78"/>
<path stroke-width="4.49" d="M1197.94,170.47 h0.01"/>
<path stroke-width="4.50" d="M1201.71,158.11 L1202.22,156.43 L1202.73,154.76 L1203.24,153.08 L1203.74,151.40 L1204.25,149.73"/>
<path stroke-width="4.50" d="M1207.95,137.38 h0.01"/>
<path stroke-width="4.51" d="M1211.62,124.99 L1212.11,123.31 L1212.60,121.63 L1213.10,119.95 L1213.59,118.27 L1214.08,116.58"/>
<path stroke-width="4.52" d="M1217.68,104.21 h0.01"/>
<path stroke-width="4.52" d="M1221.25,91.79 L1221.73,90.10 L1222.21,88.42 L1222.69,86.73 L1223.17,85.05 L1223.65,83.36"/>
<path stroke-width="4.52" d="M1227.15,70.96 h0.01"/>
<path stroke-width="4.53" d="M1230.63,58.51 L1231.10,56.82 L1231.57,55.13 L1232.03,53.45 L1232.50,51.76 L1232.97,50.07"/>
<path stroke-width="4.53" d="M1236.38,37.64 h0.01"/>
<path stroke-width="4.54" d="M1239.77,25.17 L1239.82,25.00 L1239.86,24.83 L1239.91,24.66 L1239.95,24.50 L1240.00,24.33"/>
</g>
</svg></body></html>
